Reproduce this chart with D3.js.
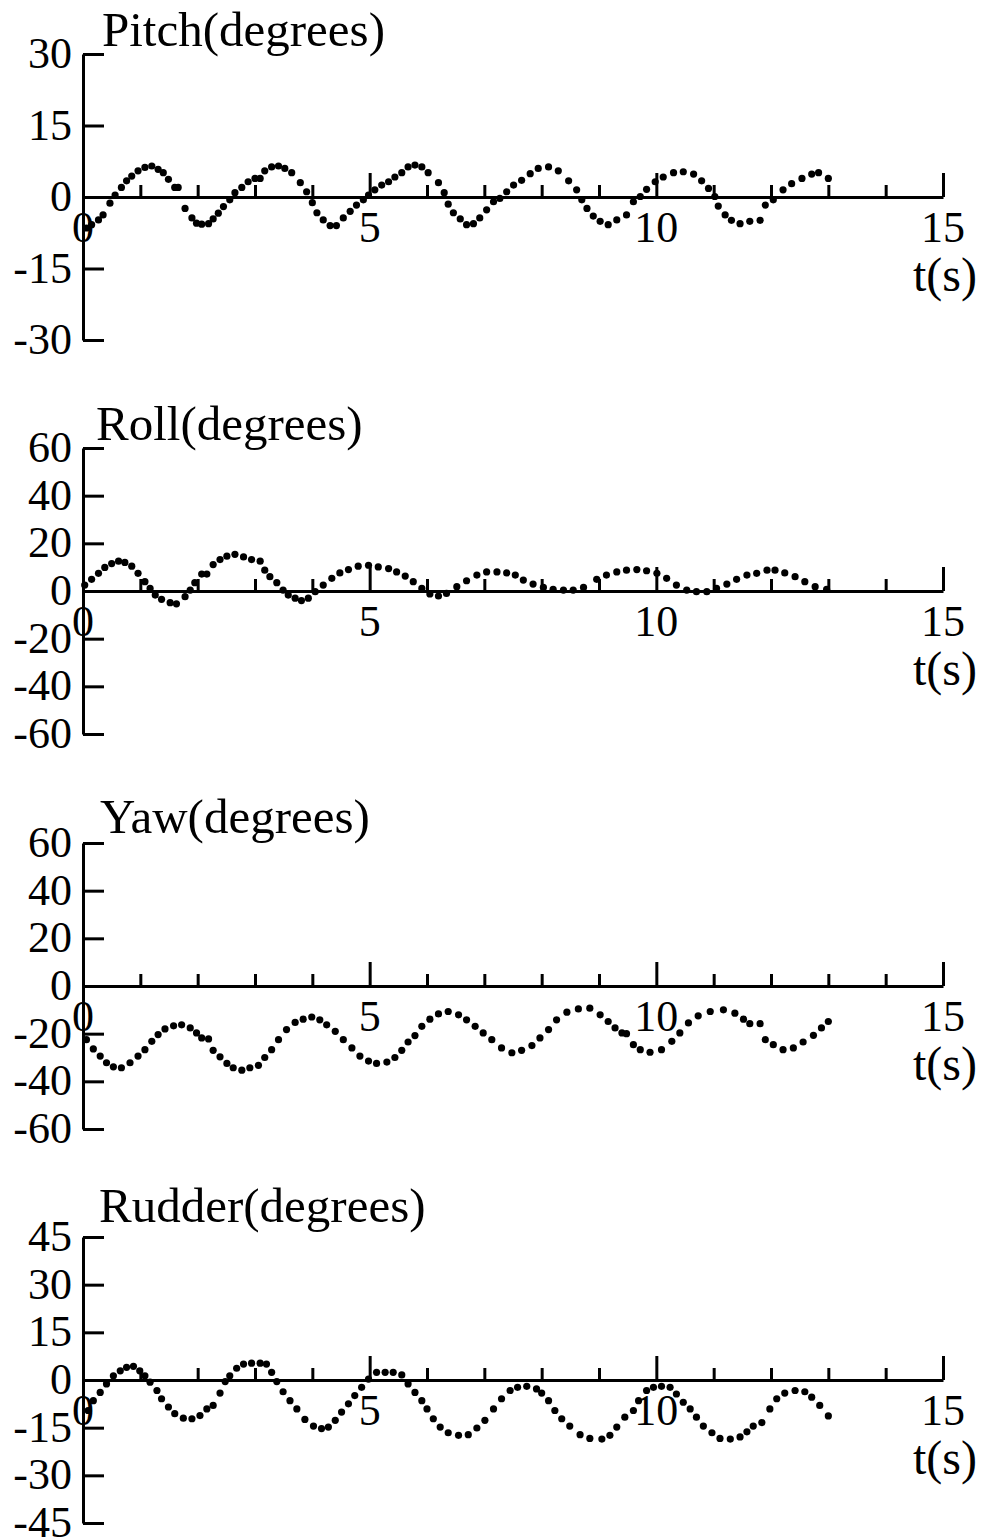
<!DOCTYPE html>
<html><head><meta charset="utf-8">
<script src="https://cdn.jsdelivr.net/npm/d3@7"></script>
<style>body{margin:0;background:#fff}svg{display:block}</style>
</head><body>
<script>
// ---- data ----
const xTicks = [0, 5, 10, 15];
const pitchTicks = [30, 15, 0, -15, -30];
const rollTicks = [60, 40, 20, 0, -20, -40, -60];
const yawTicks = [60, 40, 20, 0, -20, -40, -60];
const rudderTicks = [45, 30, 15, 0, -15, -30, -45];

const pitchT = [0.06,0.15,0.27,0.35,0.47,0.56,0.67,0.76,0.85,0.96,1.08,1.2,1.31,1.4,1.49,1.6,1.66,1.78,1.9,1.98,2.07,2.19,2.27,2.36,2.45,2.56,2.65,2.77,2.88,3.0,3.09,3.17,3.29,3.41,3.52,3.64,3.79,3.9,4.0,4.08,4.19,4.31,4.42,4.54,4.66,4.77,4.89,4.98,5.09,5.21,5.33,5.44,5.56,5.67,5.79,5.91,6.02,6.2,6.3,6.37,6.46,6.58,6.69,6.81,6.92,7.04,7.16,7.27,7.39,7.51,7.65,7.8,7.94,8.12,8.29,8.47,8.61,8.7,8.79,8.9,9.02,9.16,9.31,9.48,9.6,9.72,9.83,9.98,10.12,10.3,10.47,10.65,10.79,10.91,11.02,11.08,11.2,11.31,11.46,11.63,11.81,11.9,12.04,12.21,12.36,12.54,12.71,12.83,13.0];
const pitchV = [-6.5,-5.8,-4.8,-3.75,-1.3,0.4,2,3.4,4.4,5.5,6.2,6.5,5.8,5.1,3.7,2,2,-2.4,-4.4,-5.5,-5.7,-5.6,-4.6,-3.4,-2,-0.6,0.9,2,3.2,3.9,3.9,5.5,6.3,6.5,6,5.1,3,1.1,-1.2,-3.3,-4.8,-6,-6,-4.4,-3,-1.7,-0.6,0.4,1.5,2.5,3.2,4.2,5.1,6.3,6.7,6.3,5.1,3,0.9,-1.5,-3.3,-4.6,-5.8,-5.6,-4.4,-2.7,-1,-0.3,1.1,2.5,3.5,4.9,6,6.3,5.5,3.4,1.5,-0.6,-2.4,-4,-5.1,-5.8,-4.8,-3.75,-1,0.1,1.6,3.2,4.2,5.1,5.3,4.8,3.4,1.8,0.1,-1.9,-3.75,-4.9,-5.6,-5.1,-4.9,-1.7,-0.6,1.5,2.8,3.9,4.8,5.1,3.9];

const rollT = [0.03,0.15,0.27,0.38,0.5,0.62,0.73,0.85,0.96,1.08,1.17,1.26,1.37,1.52,1.63,1.78,1.87,1.95,2.07,2.16,2.27,2.39,2.51,2.65,2.8,2.94,3.09,3.17,3.26,3.38,3.49,3.58,3.7,3.81,3.93,4.05,4.19,4.34,4.48,4.63,4.8,4.98,5.15,5.33,5.47,5.62,5.76,5.91,6.05,6.2,6.34,6.52,6.69,6.87,7.04,7.22,7.39,7.54,7.68,7.85,8.03,8.2,8.38,8.55,8.73,8.96,9.13,9.31,9.48,9.66,9.83,10.01,10.18,10.35,10.53,10.7,10.88,11.05,11.23,11.4,11.58,11.75,11.93,12.07,12.24,12.42,12.59,12.77,12.97];
const rollV = [2.5,4.9,7.4,9.9,11.5,12.5,12,10.4,7.4,3.9,1.1,-1.7,-3.5,-4.9,-5.4,-2.4,0.4,3.5,7.1,7.1,11.1,13.2,14.6,15.4,14.3,13.2,12.5,8.75,6,3.5,0.4,-1.7,-3,-4,-3,-0.3,2.5,5.3,7.6,9,10.4,10.8,10.1,9.4,8,6.25,3.9,1.1,-1.25,-2.1,-1,1.8,4.3,6.7,8,8,7.6,6.7,4.6,2.9,1.5,0.7,0.4,0.4,1.5,4.9,6.7,8,8.75,9,8.5,7.4,5.3,2.5,0.4,-0.3,-0.3,1.1,2.9,4.9,6.7,7.4,8.75,8.75,7.6,6,3.9,1.8,0.7];

const yawT = [0.06,0.18,0.3,0.41,0.53,0.67,0.82,0.96,1.08,1.2,1.31,1.43,1.58,1.72,1.87,1.98,2.07,2.19,2.27,2.39,2.51,2.62,2.77,2.91,3.06,3.17,3.29,3.41,3.55,3.7,3.84,3.99,4.13,4.25,4.4,4.54,4.69,4.83,4.98,5.12,5.3,5.44,5.56,5.67,5.79,5.91,6.05,6.2,6.37,6.55,6.69,6.84,6.98,7.13,7.3,7.48,7.65,7.83,7.97,8.12,8.26,8.44,8.64,8.84,9.02,9.16,9.28,9.4,9.48,9.6,9.72,9.89,10.09,10.27,10.41,10.56,10.73,10.94,11.17,11.37,11.52,11.63,11.81,11.9,12.04,12.21,12.39,12.56,12.74,12.88,13.0];
const yawV = [-22.5,-26.4,-29.4,-32.2,-33.9,-34.3,-32.2,-29.4,-26.7,-23.2,-20.4,-18,-16.7,-16.3,-17.6,-19.7,-21.8,-22.2,-27,-29.7,-32.5,-34.3,-35.3,-34.3,-33.3,-30,-26.7,-22.5,-18.3,-15.3,-13.9,-13,-14.2,-16.3,-19,-22.5,-26,-29.4,-31.5,-32.5,-31.9,-30,-27,-23.5,-20.8,-16.9,-13.9,-11.7,-10.7,-12.1,-14.2,-16.9,-19.7,-22.5,-26,-28,-27,-25,-21.8,-18.3,-14.2,-11,-9.6,-9.3,-12.1,-14.9,-17.6,-19.7,-20,-24.6,-26.7,-27.8,-26.7,-23.2,-19.7,-15.5,-12.5,-10.7,-10,-11.4,-13.9,-15.8,-15.8,-22.5,-24.6,-26.7,-26,-23.5,-20.7,-17.6,-14.9];

const rudderT = [0.09,0.18,0.3,0.41,0.53,0.65,0.76,0.88,0.99,1.08,1.17,1.29,1.37,1.49,1.6,1.75,1.9,2.04,2.16,2.27,2.39,2.48,2.56,2.68,2.8,2.94,3.09,3.2,3.29,3.38,3.49,3.61,3.73,3.87,4.02,4.16,4.28,4.4,4.51,4.63,4.74,4.86,4.98,5.12,5.27,5.41,5.56,5.67,5.79,5.91,6.0,6.11,6.23,6.37,6.55,6.72,6.87,7.01,7.16,7.3,7.45,7.58,7.74,7.91,8.0,8.12,8.23,8.35,8.49,8.67,8.84,9.05,9.19,9.31,9.45,9.6,9.69,9.83,9.95,10.09,10.24,10.35,10.47,10.59,10.7,10.82,10.97,11.11,11.29,11.46,11.58,11.69,11.84,11.98,12.1,12.24,12.42,12.59,12.71,12.85,13.0];
const rudderV = [-9.6,-6.5,-3.9,-1.25,1.3,2.9,4,4.3,2.9,1.3,-0.7,-3.3,-5.9,-8.5,-10.6,-12,-12.2,-11.2,-9.1,-8,-4.1,-0.5,1.3,3.7,5,5.3,5.3,5,2.4,-0.5,-3.7,-6.5,-9.1,-12.4,-14.5,-15.3,-14.8,-12.7,-10.1,-7.5,-4.9,-2.3,0.3,2.4,2.4,2.4,1.6,-1.25,-3.9,-6.5,-9.1,-12.2,-14.8,-16.6,-17.4,-17.2,-15.1,-12.7,-9.1,-5.9,-3.3,-2.3,-2,-2.8,-4.1,-6.5,-9.6,-12.2,-14.5,-17.2,-18.4,-18.6,-17.4,-14.8,-11.7,-9.6,-6.5,-3.3,-2.3,-2,-2.3,-4.4,-7,-9.1,-11.7,-14.5,-16.6,-18.4,-18.6,-17.9,-16.3,-14.5,-13.4,-9.1,-5.9,-4.1,-3.3,-3.7,-5.4,-8,-11.3];

const panels = [
  {title: "Pitch(degrees)", t: pitchT, v: pitchV, ticks: pitchTicks, max: 30, zeroY: 197, tx: 102, ty: -8},
  {title: "Roll(degrees)", t: rollT, v: rollV, ticks: rollTicks, max: 60, zeroY: 591, tx: 96, ty: -8},
  {title: "Yaw(degrees)", t: yawT, v: yawV, ticks: yawTicks, max: 60, zeroY: 986, tx: 100, ty: -10},
  {title: "Rudder(degrees)", t: rudderT, v: rudderV, ticks: rudderTicks, max: 45, zeroY: 1380, tx: 99, ty: -15}
];

// ---- drawing ----
const W = 981, H = 1540, half = 143;
const svg = d3.select("body").append("svg").attr("width", W).attr("height", H)
  .style("font-family", "'Liberation Serif','Times New Roman',serif");
const x = d3.scaleLinear().domain([0, 15]).range([83, 943]);
const minor = d3.range(1, 15).filter(d => d % 5 !== 0);

panels.forEach(p => {
  const y = d3.scaleLinear().domain([-p.max, p.max]).range([p.zeroY + half, p.zeroY - half]);
  const g = svg.append("g");

  // y axis
  const yAx = g.append("g").attr("transform", `translate(83,0)`)
    .call(d3.axisRight(y).tickValues(p.ticks).tickSize(21).tickSizeOuter(0).tickFormat(() => ""));
  yAx.select(".domain").attr("stroke-width", 3).attr("stroke", "#000");
  yAx.selectAll(".tick line").attr("stroke-width", 3).attr("stroke", "#000");
  g.selectAll(".ylab").data(p.ticks).enter().append("text")
    .attr("x", 72).attr("y", d => y(d) + 14).attr("text-anchor", "end")
    .attr("font-size", 44).text(d => d);

  // x axis
  const xAx = g.append("g").attr("transform", `translate(0,${p.zeroY})`)
    .call(d3.axisTop(x).tickValues([5, 10, 15]).tickSize(24).tickSizeOuter(0).tickFormat(() => ""));
  xAx.select(".domain").attr("stroke-width", 3).attr("stroke", "#000");
  xAx.selectAll(".tick line").attr("stroke-width", 3).attr("stroke", "#000");
  const xMin = g.append("g").attr("transform", `translate(0,${p.zeroY})`)
    .call(d3.axisTop(x).tickValues(minor).tickSize(12).tickSizeOuter(0).tickFormat(() => ""));
  xMin.select(".domain").remove();
  xMin.selectAll(".tick line").attr("stroke-width", 3).attr("stroke", "#000");
  g.selectAll(".xlab").data(xTicks).enter().append("text")
    .attr("x", d => x(d)).attr("y", p.zeroY + 45).attr("text-anchor", "middle")
    .attr("font-size", 44).text(d => d);
  g.append("text").attr("x", 977).attr("y", p.zeroY + 94).attr("text-anchor", "end")
    .attr("font-size", 48).text("t(s)");

  // title
  g.append("text").attr("x", p.tx).attr("y", p.zeroY - half + p.ty)
    .attr("font-size", 49).text(p.title);

  // dots
  g.selectAll("circle").data(p.t.map((t, i) => [t, p.v[i]])).enter().append("circle")
    .attr("cx", d => x(d[0])).attr("cy", d => y(d[1])).attr("r", 3.6).attr("fill", "#000");
});
</script>
</body></html>
